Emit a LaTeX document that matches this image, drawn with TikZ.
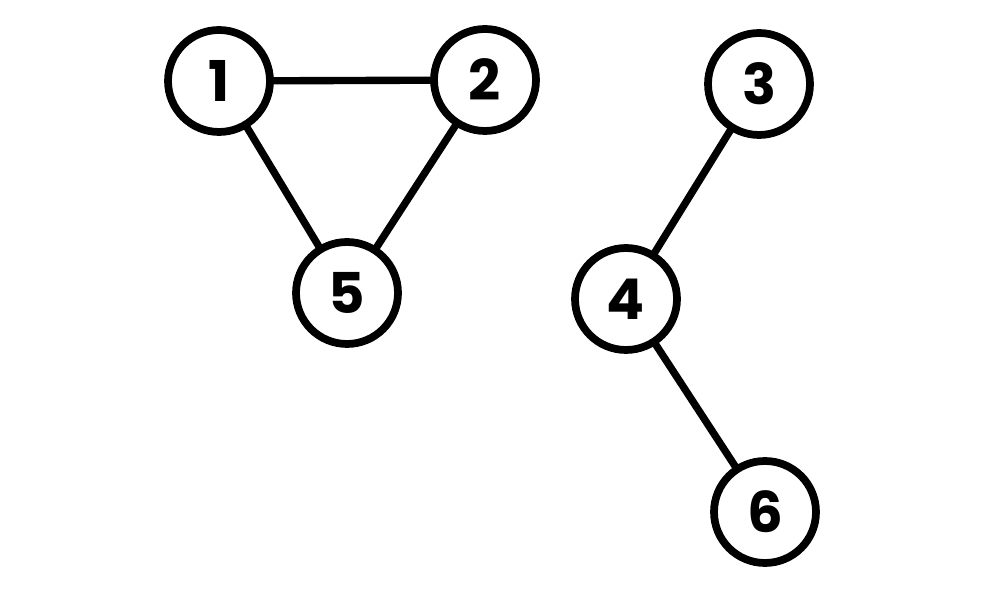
\documentclass[tikz,border=0pt]{standalone}
\usepackage{fontspec}
\setmainfont{Poppins}
\begin{document}
\begin{tikzpicture}[x=0.02cm,y=-0.02cm,
  vertex/.style={circle,draw=black,line width=4.4pt,minimum size=2.04cm,inner sep=0pt,outer sep=0pt,fill=white,font=\fontsize{32}{36}\selectfont\bfseries},
  link/.style={draw=black,line width=4.2pt}]
\useasboundingbox[fill=white] (0,0) rectangle (1004,590);
\node[vertex] (n1) at (219,81) {1};
\node[vertex] (n2) at (485,80) {2};
\node[vertex] (n3) at (759,84) {3};
\node[vertex] (n4) at (626,299) {4};
\node[vertex] (n5) at (347,293) {5};
\node[vertex] (n6) at (765,512) {6};
\draw[link] (n1) -- (n2);
\draw[link] (n1) -- (n5);
\draw[link] (n2) -- (n5);
\draw[link] (n3) -- (n4);
\draw[link] (n4) -- (n6);
\end{tikzpicture}
\end{document}
